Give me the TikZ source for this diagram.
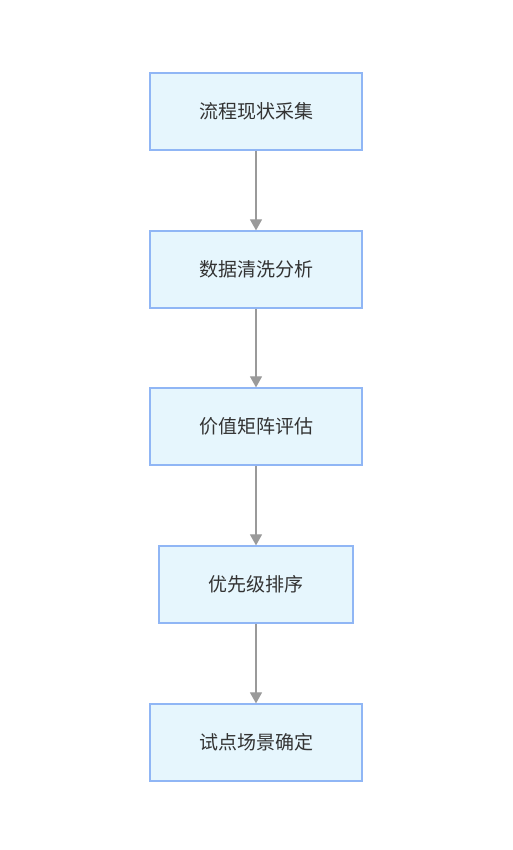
\documentclass[tikz,border=0pt]{standalone}
\usepackage{fontspec}
\newfontfamily\cjk{Noto Sans CJK SC}
\usetikzlibrary{arrows.meta}
\definecolor{boxfill}{HTML}{E6F6FD}
\definecolor{boxline}{HTML}{90B6F5}
\definecolor{arr}{HTML}{9A9A9A}
\definecolor{txt}{HTML}{333333}
\begin{document}
\begin{tikzpicture}[x=1pt,y=1pt,
  stepbox/.style={draw=boxline,fill=boxfill,line width=1.2pt,minimum height=77pt,inner sep=0pt,
    font=\cjk\fontsize{19}{22}\selectfont,text=txt},
  conn/.style={draw=arr,line width=1.2pt,-{Triangle[length=11pt,width=12pt]}}]
\useasboundingbox (0,0) rectangle (512,850);
\node[stepbox,minimum width=212pt] (a) at (256,850-111.5) {流程现状采集};
\node[stepbox,minimum width=212pt] (b) at (256,850-269.5) {数据清洗分析};
\node[stepbox,minimum width=212pt] (c) at (256,850-426.5) {价值矩阵评估};
\node[stepbox,minimum width=194pt] (d) at (256,850-584.5) {优先级排序};
\node[stepbox,minimum width=212pt] (e) at (256,850-742.5) {试点场景确定};
\draw[conn] (a) -- (b);
\draw[conn] (b) -- (c);
\draw[conn] (c) -- (d);
\draw[conn] (d) -- (e);
\end{tikzpicture}
\end{document}
